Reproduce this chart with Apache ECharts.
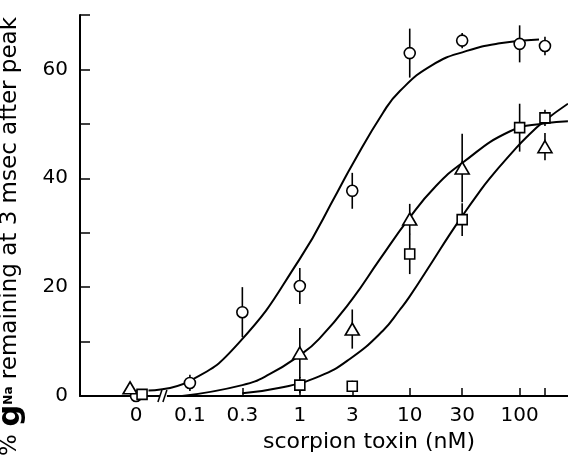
<!DOCTYPE html>
<html>
<head>
<meta charset="utf-8">
<script src="https://cdn.jsdelivr.net/npm/echarts@6/dist/echarts.min.js"></script>
<style>
html, body { margin: 0; padding: 0; background: #fff; }
#chart { width: 568px; height: 466px; }
</style>
</head>
<body>
<div id="chart"></div>
<script>
// concentrations in nM, 0 = control (drawn left of the axis break)
const tickLabels = [0, 0.1, 0.3, 1, 3, 10, 30, 100];
const tickMarks = [0.3, 1, 3, 10, 30, 100, 170];

// measured points: circles
const circleConc = [0, 0.1, 0.3, 1, 3, 10, 30, 100, 170];
const circleVal = [0, 2.4, 15.4, 20.2, 37.7, 63, 65.3, 64.7, 64.3];
const circleErr = [0, 1.5, 4.6, 3.3, 3.3, 4.5, 1.4, 3.4, 1.7];

// triangles
const triConc = [0, 1, 3, 10, 30, 170];
const triVal = [1.5, 7.9, 12.3, 32.5, 41.9, 45.8];
const triErr = [0, 4.6, 3.6, 2.8, 6.3, 2.5];

// squares
const sqConc = [0, 1, 3, 10, 30, 100, 170];
const sqVal = [0.3, 2, 1.8, 26.1, 32.4, 49.3, 51.1];
const sqErr = [0, 1.5, 1, 3.7, 3, 4.4, 1.5];

// fitted curves
const circleFitConc = [0.042, 0.1, 0.28, 1, 2.2, 3, 5.7, 8.1, 16, 33, 66, 150];
const circleFitVal = [1.0, 2.8, 9.8, 25.2, 37.5, 42.5, 52, 56, 60.8, 63.4, 64.8, 65.5];

const triFitConc = [0.085, 0.3, 0.53, 1, 1.5, 3, 5.3, 10, 17, 30, 81, 170, 275];
const triFitVal = [0, 2, 4, 7.5, 10.5, 17.8, 25, 32.8, 38.4, 42.8, 48.6, 50.1, 50.5];

const sqFitConc = [0.3, 0.66, 1.5, 2.85, 5.7, 8.1, 10, 16.2, 23, 30.4, 40.7, 53, 86, 116, 170, 275];
const sqFitVal = [0.5, 1.5, 3.6, 6.8, 12, 15.8, 18.3, 24.8, 29.6, 33.2, 36.8, 39.9, 44.8, 47.6, 50.6, 53.7];

const breakAt = 0.058;

const ZERO_POS = -1.49;
const pos = function (c) {
    return c === 0 ? ZERO_POS : Math.log10(c);
};
const labelFor = function (v) {
    for (const c of tickLabels) {
        if (Math.abs(pos(c) - v) < 1e-6) return String(c);
    }
    return '';
};

const font = 'DejaVu Sans';
const chart = echarts.init(document.getElementById('chart'));

const points = function (conc, vals) {
    return conc.map((c, i) => [pos(c), vals[i]]);
};
const errData = function (conc, vals, errs) {
    return conc.map((c, i) => [pos(c), vals[i] - errs[i], vals[i] + errs[i]]).filter(d => d[2] - d[1] > 0);
};

const errorSeries = function (conc, vals, errs) {
    return {
        type: 'custom',
        z: 3,
        clip: false,
        silent: true,
        data: errData(conc, vals, errs),
        renderItem: function (params, api) {
            const lo = api.coord([api.value(0), api.value(1)]);
            const hi = api.coord([api.value(0), api.value(2)]);
            return {
                type: 'line',
                shape: { x1: lo[0], y1: lo[1], x2: hi[0], y2: hi[1] },
                style: { stroke: '#000', lineWidth: 1.6 }
            };
        }
    };
};

const fitSeries = function (conc, vals) {
    return {
        type: 'line',
        z: 2,
        data: points(conc, vals),
        showSymbol: false,
        smooth: 0.5,
        silent: true,
        lineStyle: { color: '#000', width: 2 }
    };
};

const markerSeries = function (conc, vals, symbol, size, zeroShift) {
    return {
        type: 'scatter',
        z: 5,
        clip: false,
        silent: true,
        symbol: symbol,
        symbolSize: size,
        data: points(conc, vals).map((d, i) => ({
            value: d,
            symbolOffset: conc[i] === 0 ? [zeroShift, 0] : [0, 0]
        })),
        itemStyle: { color: '#fff', opacity: 1, borderColor: '#000', borderWidth: 1.6 }
    };
};

chart.setOption({
    animation: false,
    backgroundColor: '#fff',
    grid: { left: 80, right: 0, top: 15, bottom: 70, outerBoundsMode: 'none', containLabel: false },
    xAxis: {
        type: 'value',
        min: -2,
        max: 2.44,
        name: 'scorpion toxin (nM)',
        nameLocation: 'middle',
        nameGap: 34,
        nameTextStyle: { fontFamily: font, fontSize: 22, color: '#000', padding: [0, 0, 0, 90] },
        axisLine: { show: true, onZero: false, lineStyle: { color: '#000', width: 2 } },
        axisTick: {
            show: true,
            inside: true,
            length: 8,
            customValues: tickMarks.map(pos),
            lineStyle: { color: '#000', width: 1.5 }
        },
        axisLabel: {
            customValues: tickLabels.map(pos),
            formatter: labelFor,
            margin: 10,
            fontFamily: font,
            fontSize: 20,
            color: '#000'
        },
        splitLine: { show: false }
    },
    yAxis: {
        type: 'value',
        min: 0,
        max: 70,
        interval: 10,
        name: '{p|%} {g|g}{na|Na} remaining at 3 msec after peak',
        nameLocation: 'middle',
        nameGap: 54,
        nameTextStyle: {
            fontFamily: font,
            fontSize: 23,
            color: '#000',
            padding: [0, 62, 0, 0],
            rich: {
                p: { fontFamily: font, fontSize: 23, color: '#000' },
                g: { fontFamily: font, fontSize: 31, fontWeight: 'bold', color: '#000' },
                na: { fontFamily: font, fontSize: 12, fontWeight: 'bold', color: '#000', padding: [0, 0, 4, 0] }
            }
        },
        axisLine: { show: true, onZero: false, lineStyle: { color: '#000', width: 2 } },
        axisTick: { show: true, inside: true, length: 10, lineStyle: { color: '#000', width: 1.5 } },
        axisLabel: {
            formatter: v => (v % 20 === 0 ? String(v) : ''),
            margin: 12,
            fontFamily: font,
            fontSize: 20,
            color: '#000'
        },
        splitLine: { show: false }
    },
    series: [
        fitSeries(circleFitConc, circleFitVal),
        fitSeries(triFitConc, triFitVal),
        fitSeries(sqFitConc, sqFitVal),
        errorSeries(circleConc, circleVal, circleErr),
        errorSeries(triConc, triVal, triErr),
        errorSeries(sqConc, sqVal, sqErr),
        markerSeries(circleConc, circleVal, 'circle', 11, 0),
        markerSeries(triConc, triVal, 'triangle', [14, 12], -6),
        markerSeries(sqConc, sqVal, 'rect', 10, 6),
        {
            // axis break
            type: 'custom',
            z: 4,
            clip: false,
            silent: true,
            data: [[pos(breakAt), 0]],
            renderItem: function (params, api) {
                const p = api.coord([api.value(0), api.value(1)]);
                return {
                    type: 'group',
                    children: [
                        { type: 'rect', shape: { x: p[0] - 4, y: p[1] - 3, width: 7, height: 6 }, style: { fill: '#fff' } },
                        { type: 'line', shape: { x1: p[0] - 6, y1: p[1] + 6, x2: p[0] - 2, y2: p[1] - 6 }, style: { stroke: '#000', lineWidth: 1.5 } },
                        { type: 'line', shape: { x1: p[0] - 1, y1: p[1] + 6, x2: p[0] + 3, y2: p[1] - 6 }, style: { stroke: '#000', lineWidth: 1.5 } }
                    ]
                };
            }
        }
    ]
});
</script>
</body>
</html>
